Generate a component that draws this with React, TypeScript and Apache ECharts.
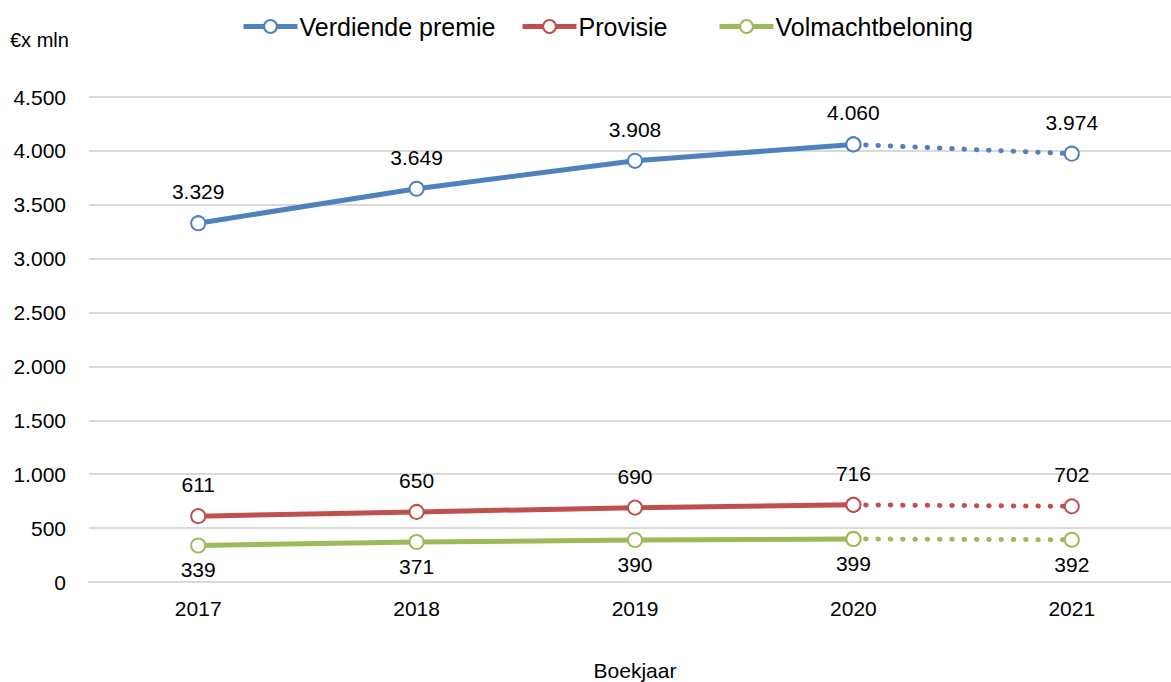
import React, { useEffect, useRef } from "react";
import * as echarts from "echarts";

const years = ["2017", "2018", "2019", "2020", "2021"];
const premie = [3329, 3649, 3908, 4060, 3974];
const provisie = [611, 650, 690, 716, 702];
const volmacht = [339, 371, 390, 399, 392];
const seriesNames = ["Verdiende premie", "Provisie", "Volmachtbeloning"];
const colors = ["#4F81BD", "#C0504D", "#9BBB59"];
const yTicks = { min: 0, max: 4500, interval: 500 };
const legendLefts = [242, 521, 718];

const FONT = "'Liberation Sans', Arial, sans-serif";
const fmt = (v: number) => String(v).replace(/\B(?=(\d{3})+(?!\d))/g, ".");

export default function App() {
  const ref = useRef<HTMLDivElement>(null);
  useEffect(() => {
    if (!ref.current) return;
    const chart = echarts.init(ref.current, undefined, { renderer: "svg" });
    const all = [premie, provisie, volmacht];
    const series: any[] = [];
    all.forEach((data, i) => {
      const below = i === 2;
      const label = {
        show: true,
        position: below ? "bottom" : "top",
        distance: below ? 6 : 13,
        fontSize: 21,
        fontFamily: FONT,
        color: "#000",
        formatter: (p: any) => fmt(p.value),
      };
      series.push({
        name: seriesNames[i],
        type: "line",
        data: data.map((v, k) => (k <= 3 ? v : null)),
        symbol: "circle",
        symbolSize: 14,
        color: colors[i],
        itemStyle: { color: "#fff", borderColor: colors[i], borderWidth: 2 },
        lineStyle: { color: colors[i], width: 5 },
        label,
        z: 3,
      });
      series.push({
        name: seriesNames[i] + " prognose",
        type: "line",
        data: data.map((v, k) => (k >= 3 ? v : null)),
        symbol: "circle",
        symbolSize: 14,
        itemStyle: { color: "#fff", borderColor: colors[i], borderWidth: 2 },
        lineStyle: { color: colors[i], width: 5, type: [0.5, 11.8], cap: "round" },
        label: { ...label, show: true, formatter: (p: any) => (p.dataIndex === 4 ? fmt(p.value) : "") },
        z: 2,
      });
    });
    chart.setOption({
      animation: false,
      textStyle: { fontFamily: FONT },
      legend: seriesNames.map((n, i) => ({
        data: [{ name: n, itemStyle: { color: "#fff", borderColor: colors[i], borderWidth: 2 } }],
        top: 9,
        left: legendLefts[i] - 6,
        itemWidth: 54,
        itemHeight: 16,
        lineStyle: { width: 5 },
        textStyle: { fontSize: 25, fontFamily: FONT, color: "#000", padding: [0, 0, 0, -3] },
      })),
      graphic: [
        {
          type: "text",
          left: 10,
          top: 30,
          style: { text: "€x mln", fontSize: 20, fontFamily: FONT, fill: "#000" },
        },
      ],
      grid: { left: 89, top: 97, width: 1092, height: 485, outerBoundsMode: "none", containLabel: false },
      xAxis: {
        type: "category",
        data: years,
        boundaryGap: true,
        axisLine: { lineStyle: { color: "#d9d9d9", width: 2 } },
        axisTick: { show: false },
        axisLabel: { fontSize: 21, fontFamily: FONT, color: "#000", margin: 16 },
        name: "Boekjaar",
        nameLocation: "middle",
        nameGap: 78,
        nameTextStyle: { fontSize: 21, fontFamily: FONT, color: "#000" },
      },
      yAxis: {
        type: "value",
        min: yTicks.min,
        max: yTicks.max,
        interval: yTicks.interval,
        axisLine: { show: false },
        axisTick: { show: false },
        splitLine: { lineStyle: { color: "#d9d9d9", width: 2 } },
        axisLabel: { fontSize: 21, fontFamily: FONT, color: "#000", margin: 23, formatter: (v: number) => fmt(v) },
      },
      series,
    });
    return () => chart.dispose();
  }, []);
  return (
    <div
      ref={ref}
      style={{ position: "fixed", left: 0, top: 0, width: 1171, height: 682, background: "#fff" }}
    />
  );
}
